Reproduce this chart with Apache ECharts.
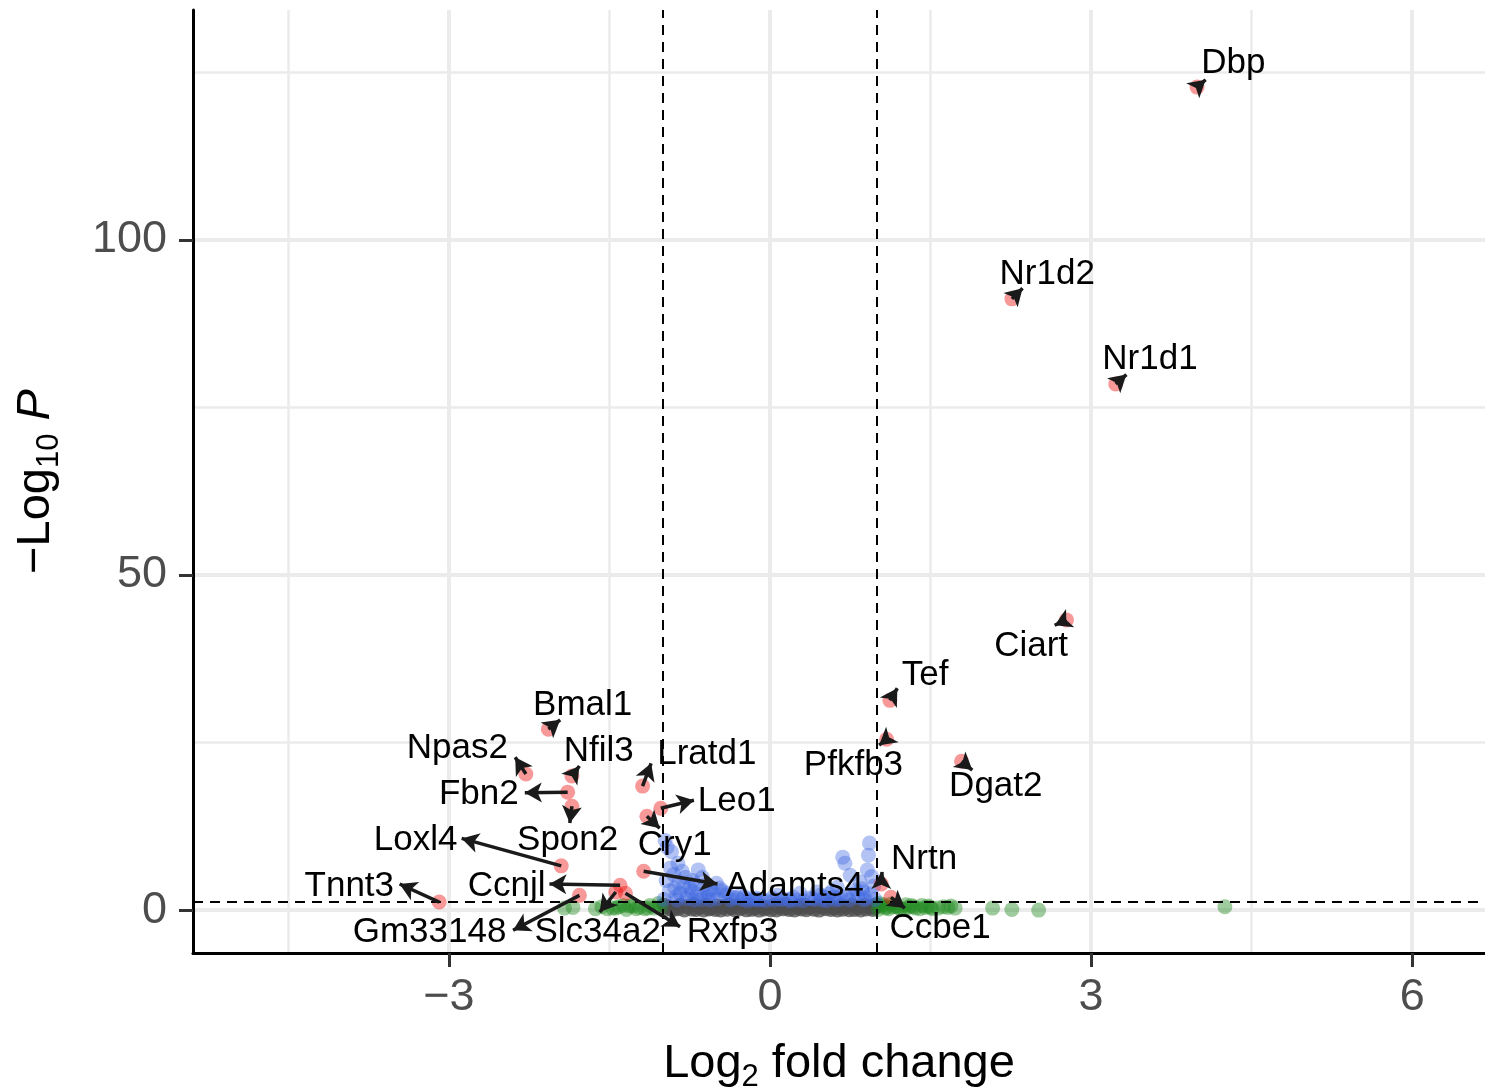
<!DOCTYPE html>
<html>
<head>
<meta charset="utf-8">
<script src="https://cdn.jsdelivr.net/npm/echarts@6/dist/echarts.min.js"></script>
<style>
html,body{margin:0;padding:0;background:#fff;}
#chart{width:1485px;height:1090px;}
</style>
</head>
<body>
<div id="chart"></div>
<script>
// ---- labelled genes (red: p & log2FC significant) ----
const genes  = ['Dbp','Nr1d2','Nr1d1','Ciart','Tef','Pfkfb3','Dgat2','Nrtn','Ccbe1','Bmal1','Npas2','Nfil3','Fbn2','Spon2','Lratd1','Leo1','Cry1','Loxl4','Adamts4','Ccnjl','Tnnt3','Gm33148','Slc34a2','Rxfp3'];
const geneFC = [3.99, 2.26, 3.23, 2.77, 1.12, 1.09, 1.79, 1.04, 1.13, -2.07, -2.28, -1.85, -1.89, -1.85, -1.19, -1.02, -1.15, -1.95, -1.18, -1.40, -3.09, -1.78, -1.44, -1.35];
const geneP  = [122.8, 91.2, 78.5, 43.3, 31.3, 25.5, 22.2, 3.9, 1.9, 27.0, 20.3, 20.0, 17.6, 15.5, 18.5, 15.2, 14.0, 6.6, 5.8, 3.7, 1.2, 2.2, 2.7, 2.5];
// label text positions (data units)
const labelFC = [4.33, 2.59, 3.55, 2.44, 1.45, 0.78, 2.11, 1.44, 1.59, -1.75, -2.92, -1.60, -2.72, -1.89, -0.59, -0.31, -0.89, -3.31, 0.23, -2.46, -3.93, -3.18, -1.61, -0.35];
const labelP  = [126.4, 94.8, 82.2, 39.4, 35.1, 21.6, 18.4, 7.5, -2.7, 30.6, 24.2, 23.7, 17.3, 10.4, 23.3, 16.3, 9.6, 10.4, 3.6, 3.6, 3.6, -3.3, -3.3, -3.3];
// arrow end points (data units)
const arrowFC = [4.07, 2.36, 3.33, 2.66, 1.19, 1.02, 1.89, 1.04, 1.26, -1.96, -2.38, -1.78, -2.29, -1.87, -1.11, -0.71, -1.03, -2.88, -0.49, -2.06, -3.46, -2.40, -1.59, -0.84];
const arrowP  = [123.9, 92.8, 79.9, 42.5, 33.1, 24.6, 20.9, 5.7, 0.3, 28.4, 22.8, 21.5, 17.5, 13.0, 21.9, 16.4, 12.2, 10.7, 3.9, 3.9, 3.9, -3.0, -0.3, -2.5];

// ---- blue: p significant only ----
const blueFC = [-0.98,-0.92,-0.86,-0.89,-0.79,-0.67,-0.63,-0.75,-0.50,-0.84,-0.59,-0.40,-0.28,-0.96,-0.82,-0.70,-0.55,-0.45,-0.93,-0.77,-0.65,-0.35,-0.18,-0.08,
                -0.97,-0.90,-0.85,-0.81,-0.72,-0.61,-0.53,-0.47,-0.42,-0.31,-0.24,-0.13,-0.88,-0.73,-0.68,-0.58,
                -0.99,-0.94,-0.87,-0.78,-0.71,-0.64,-0.56,-0.49,-0.37,-0.26,-0.21,-0.15,-0.11,-0.04,0.04,0.10,0.19,0.25,0.31,0.42,0.49,0.53,0.61,
                0.93,0.92,0.68,0.70,0.91,0.75,0.84,0.63,0.87,0.44,0.28,0.07,0.80,0.55,0.95,0.60,0.36,0.17,0.89,0.72,
                0.97,0.86,0.78,0.66,0.51,0.47,0.39,0.22,0.12,0.02,0.94,0.82,0.58,0.74,0.65,0.88,0.98];
const blueP  = [10.4,8.7,7.0,3.3,4.9,6.0,4.9,3.4,4.0,2.5,2.7,2.5,2.2,9.4,5.8,3.9,3.1,2.9,6.3,2.3,2.1,1.9,1.7,1.6,
                4.4,5.3,4.1,3.6,4.4,3.7,2.6,3.3,2.2,1.8,2.0,1.8,2.0,2.8,2.4,2.0,
                1.6,2.9,1.5,1.7,1.5,1.6,1.5,1.7,1.5,1.6,1.4,1.6,1.5,1.4,1.5,1.6,1.4,1.5,1.4,1.6,1.5,1.4,1.5,
                10.0,8.2,7.9,7.0,6.0,5.2,4.2,3.4,2.7,2.7,2.5,2.2,3.0,2.4,5.0,1.9,1.8,1.6,1.8,2.0,
                3.6,3.2,2.4,2.1,1.9,2.2,1.7,1.9,1.7,1.8,2.4,1.9,2.8,1.5,1.6,1.5,1.6];

// ---- green: log2FC significant only ----
const greenFC = [-1.92,-1.84,-1.57,-1.47,-1.34,-1.22,-1.12,-1.04,-1.63,-1.28,-1.08,-1.52,-1.41,-1.17,-1.37,-1.25,-1.14,-1.02,-1.44,-1.31,
                 1.03,1.08,1.15,1.22,1.29,1.36,1.45,1.52,1.62,1.73,2.08,2.26,2.51,4.25,
                 1.01,1.06,1.11,1.18,1.25,1.32,1.40,1.48,1.57,1.66,1.02,1.09,1.13,1.20,1.27,1.34,1.42,1.50,1.69];
const greenP  = [0.3,0.4,0.5,0.3,0.1,0.4,0.7,1.0,0.2,0.6,0.3,0.2,0.5,0.2,0.7,0.2,0.3,0.5,0.3,0.6,
                 0.6,0.3,0.5,0.2,0.4,0.3,0.4,0.2,0.5,0.3,0.3,0.1,0.0,0.5,
                 0.1,0.8,0.2,0.6,0.1,0.7,0.2,0.6,0.3,0.4,1.0,0.5,0.9,0.4,0.8,0.5,0.7,0.4,0.6];

// ---- grey: not significant ----
const greyFC = [-0.97,-0.91,-0.86,-0.80,-0.73,-0.69,-0.62,-0.57,-0.51,-0.46,-0.40,-0.33,-0.28,-0.22,-0.17,-0.10,-0.05,0.01,0.06,0.12,0.18,0.23,0.29,0.34,0.41,0.46,0.52,0.57,0.63,0.68,0.74,0.79,0.85,0.90,0.96,
                -0.95,-0.88,-0.77,-0.66,-0.55,-0.44,-0.36,-0.25,-0.14,-0.03,0.08,0.15,0.26,0.37,0.49,0.60,0.71,0.82,0.93,0.98,
                -0.99,-0.84,-0.71,-0.60,-0.49,-0.38,-0.31,-0.20,-0.08,0.04,0.14,0.27,0.32,0.44,0.55,0.66,0.77,0.88,0.99];
const greyP  = [0.12,0.05,0.21,0.03,0.15,0.08,0.02,0.18,0.09,0.01,0.14,0.06,0.22,0.04,0.11,0.0,0.17,0.07,0.03,0.19,0.1,0.02,0.16,0.05,0.12,0.0,0.2,0.08,0.03,0.14,0.06,0.1,0.01,0.18,0.09,
                0.45,0.38,0.52,0.41,0.33,0.5,0.36,0.47,0.31,0.42,0.55,0.35,0.44,0.39,0.49,0.34,0.46,0.4,0.51,0.37,
                0.75,0.68,0.82,0.71,0.63,0.8,0.66,0.77,0.61,0.72,0.85,0.65,0.74,0.69,0.79,0.64,0.76,0.7,0.81];

// ---- axes / thresholds ----
const xTicks = [-3, 0, 3, 6];
const yTicks = [0, 50, 100];
const xMinorGrid = [-4.5, -1.5, 1.5, 4.5];
const yMinorGrid = [25, 75, 125];
const fcCutoff = [-1, 1];
const pCutoff = 1.3;

const FONT = '"Liberation Sans", Arial, Helvetica, sans-serif';
const zip = (a, b) => a.map((v, i) => [v, b[i]]);

const chart = echarts.init(document.getElementById('chart'), null, {renderer: 'canvas'});

const gridLines = [];
xTicks.forEach(v => gridLines.push({xAxis: v, lineStyle: {width: 4}}));
xMinorGrid.forEach(v => gridLines.push({xAxis: v, lineStyle: {width: 2.5}}));
yTicks.forEach(v => gridLines.push({yAxis: v, lineStyle: {width: 4}}));
yMinorGrid.forEach(v => gridLines.push({yAxis: v, lineStyle: {width: 2.5}}));

const cutLines = fcCutoff.map(v => ({xAxis: v})).concat([{yAxis: pCutoff}]);

const ARROW_COLOR = '#1a1a1a';
const arrows = genes.map((g, i) => [
  {coord: [geneFC[i], geneP[i]], itemStyle: {color: ARROW_COLOR}},
  {coord: [arrowFC[i], arrowP[i]], itemStyle: {color: ARROW_COLOR}}
]);

function ptSeries(name, xs, ys, color, z) {
  return {
    name, type: 'scatter', data: zip(xs, ys), symbol: 'circle', symbolSize: 15,
    itemStyle: {color: color}, silent: true, z: z, animation: false
  };
}

const option = {
  animation: false,
  backgroundColor: '#ffffff',
  grid: {left: 193, right: 0, top: 10, bottom: 137, containLabel: false, outerBoundsMode: 'none'},
  xAxis: {
    type: 'value', min: -5.39, max: 6.68,
    name: '{a|Log}{s|2}{a| fold change}', nameLocation: 'middle', nameGap: 82,
    nameTextStyle: {fontFamily: FONT, color: '#000', rich: {
      a: {fontSize: 47, fontFamily: FONT, color: '#000', lineHeight: 58, verticalAlign: 'middle'},
      s: {fontSize: 31, fontFamily: FONT, color: '#000', lineHeight: 30, verticalAlign: 'bottom'}
    }},
    axisLine: {show: true, onZero: false, lineStyle: {color: '#000', width: 3}},
    axisTick: {show: true, customValues: xTicks, length: 14, lineStyle: {color: '#333', width: 3}},
    axisLabel: {customValues: xTicks, fontSize: 45, color: '#4d4d4d', fontFamily: FONT, margin: 22,
      formatter: v => String(v).replace('-', '\u2212')},
    splitLine: {show: false}
  },
  yAxis: {
    type: 'value', min: -6.4, max: 134.3,
    name: '{a|\u2212Log}{s|10}{a| }{i|P}', nameLocation: 'middle', nameGap: 128, nameRotate: 90,
    nameTextStyle: {fontFamily: FONT, color: '#000', rich: {
      a: {fontSize: 47, fontFamily: FONT, color: '#000', lineHeight: 58, verticalAlign: 'middle'},
      i: {fontSize: 47, fontFamily: FONT, color: '#000', lineHeight: 58, verticalAlign: 'middle', fontStyle: 'italic'},
      s: {fontSize: 31, fontFamily: FONT, color: '#000', lineHeight: 30, verticalAlign: 'bottom'}
    }},
    axisLine: {show: true, onZero: false, lineStyle: {color: '#000', width: 3}},
    axisTick: {show: true, customValues: yTicks, length: 14, lineStyle: {color: '#333', width: 3}},
    axisLabel: {customValues: yTicks, fontSize: 45, color: '#4d4d4d', fontFamily: FONT, margin: 26},
    splitLine: {show: false}
  },
  series: [
    {
      name: 'grid', type: 'scatter', data: [], silent: true, z: 0,
      markLine: {silent: true, z: 0, symbol: ['none', 'none'], animation: false, label: {show: false},
        lineStyle: {color: '#ebebeb', type: 'solid'}, data: gridLines}
    },
    ptSeries('NS', greyFC, greyP, 'rgba(77,77,77,0.95)', 2),
    ptSeries('Log2 FC', greenFC, greenP, 'rgba(34,139,34,0.55)', 3),
    ptSeries('p-value', blueFC, blueP, 'rgba(65,105,225,0.5)', 4),
    ptSeries('p-value and log2 FC', geneFC, geneP, 'rgba(238,0,0,0.5)', 5),
    {
      name: 'cutoffs', type: 'scatter', data: [], silent: true, z: 8,
      markLine: {silent: true, z: 8, symbol: ['none', 'none'], animation: false, label: {show: false},
        lineStyle: {color: '#000', width: 2, type: [10, 7]}, data: cutLines}
    },
    {
      name: 'arrows', type: 'scatter', data: [], silent: true, z: 9,
      markLine: {silent: true, z: 9, symbol: ['none', 'arrow'], symbolSize: [15, 17], animation: false,
        label: {show: false}, itemStyle: {color: ARROW_COLOR, opacity: 1},
        lineStyle: {color: ARROW_COLOR, width: 3.5, type: 'solid', opacity: 1}, data: arrows}
    },
    {
      name: 'labels', type: 'scatter', silent: true, z: 10,
      data: genes.map((g, i) => [labelFC[i], labelP[i], g]),
      symbol: 'circle', symbolSize: 1, itemStyle: {color: 'rgba(0,0,0,0)'},
      label: {show: true, position: 'inside', formatter: p => p.value[2],
        fontSize: 35, color: '#000000', fontFamily: FONT, textBorderWidth: 0, opacity: 1}
    }
  ]
};
chart.setOption(option);
</script>
</body>
</html>
